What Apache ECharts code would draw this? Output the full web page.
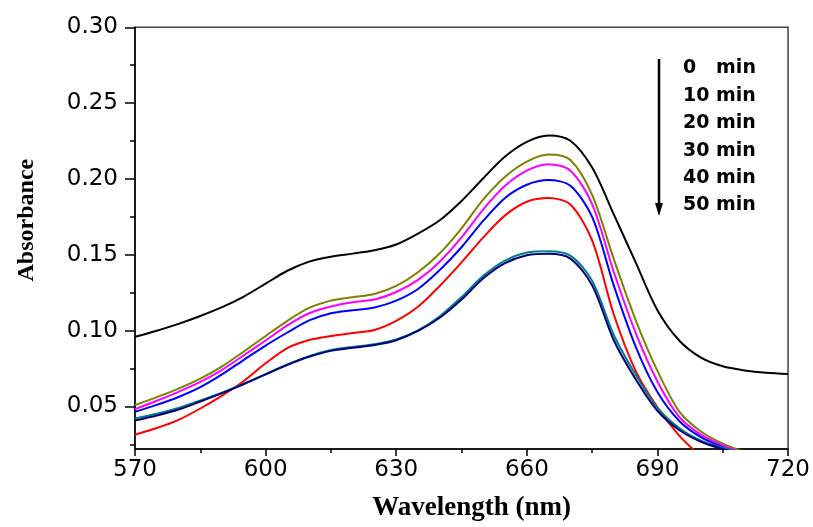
<!DOCTYPE html>
<html>
<head>
<meta charset="utf-8">
<script src="https://cdn.jsdelivr.net/npm/echarts@6/dist/echarts.min.js"></script>
<style>
html,body{margin:0;padding:0;background:#fff;}
#chart{width:813px;height:527px;}
</style>
</head>
<body>
<div id="chart"></div>
<script>
// Wavelength grid (nm)
var wavelengths = [570, 575, 580, 585, 590, 595, 600, 605, 610, 615, 620, 625, 630, 635, 640, 645, 650, 655, 660, 665, 670, 675, 680, 685, 690, 695, 700, 705, 710, 715, 720];

// Absorbance series
var abs0       = [0.096, 0.100, 0.1045, 0.1097, 0.1155, 0.1225, 0.131, 0.1395, 0.1455, 0.1488, 0.1508, 0.153, 0.1568, 0.164, 0.1728, 0.1855, 0.2005, 0.2148, 0.2245, 0.2287, 0.2252, 0.2075, 0.1765, 0.145, 0.1135, 0.0935, 0.0822, 0.0765, 0.0738, 0.0722, 0.0714];
var absOlive   = [0.051, 0.0562, 0.0618, 0.0684, 0.0765, 0.0863, 0.0965, 0.1065, 0.115, 0.1198, 0.1221, 0.1242, 0.1295, 0.1385, 0.151, 0.1675, 0.1865, 0.2015, 0.2115, 0.2161, 0.2125, 0.1895, 0.147, 0.107, 0.0735, 0.0468, 0.0335, 0.0255, 0.020, null, null];
var absMagenta = [0.0483, 0.0538, 0.0597, 0.0662, 0.0742, 0.0838, 0.0935, 0.1035, 0.1115, 0.116, 0.1188, 0.1205, 0.1255, 0.1335, 0.1455, 0.1615, 0.180, 0.1955, 0.2055, 0.2097, 0.2055, 0.1835, 0.1385, 0.0985, 0.0665, 0.0432, 0.0315, 0.0245, 0.019, null, null];
var absBlue    = [0.0466, 0.0511, 0.0563, 0.0628, 0.0712, 0.0808, 0.0902, 0.0988, 0.1068, 0.1115, 0.1135, 0.1153, 0.1198, 0.1275, 0.140, 0.155, 0.1725, 0.1875, 0.1962, 0.1993, 0.1955, 0.175, 0.1295, 0.0895, 0.0595, 0.0405, 0.0298, 0.0232, 0.018, null, null];
var absRed     = [0.0314, 0.0358, 0.0412, 0.0487, 0.0572, 0.0668, 0.0785, 0.0885, 0.0938, 0.0965, 0.0984, 0.1005, 0.1065, 0.1158, 0.1295, 0.145, 0.1615, 0.176, 0.185, 0.1874, 0.1832, 0.1595, 0.1105, 0.0735, 0.0495, 0.0308, 0.017, null, null, null, null];
var absTeal    = [0.0422, 0.0452, 0.049, 0.054, 0.0592, 0.065, 0.0714, 0.0777, 0.0832, 0.0872, 0.0893, 0.0911, 0.0942, 0.1002, 0.1095, 0.1222, 0.1362, 0.1462, 0.1515, 0.1524, 0.1495, 0.133, 0.097, 0.071, 0.0492, 0.0358, 0.0275, 0.0228, 0.019, null, null];
var absNavy    = [0.0408, 0.0441, 0.048, 0.0533, 0.0588, 0.0648, 0.0712, 0.0775, 0.0828, 0.0867, 0.0887, 0.0905, 0.0937, 0.0998, 0.1085, 0.1205, 0.1345, 0.1445, 0.1497, 0.1507, 0.1475, 0.130, 0.0935, 0.068, 0.0472, 0.0345, 0.0268, 0.022, 0.018, null, null];

var xTicks = [570, 600, 630, 660, 690, 720];
var yLabels = [0.05, 0.10, 0.15, 0.20, 0.25, 0.30];
var yMinor = [0.025, 0.075, 0.125, 0.175, 0.225, 0.275];
var legendLabels = ['0   min', '10 min', '20 min', '30 min', '40 min', '50 min'];

var seriesDefs = [
  {name: 'black', data: abs0, color: '#000000'},
  {name: 'olive', data: absOlive, color: '#808000'},
  {name: 'magenta', data: absMagenta, color: '#ff00ff'},
  {name: 'blue', data: absBlue, color: '#0000ff'},
  {name: 'red', data: absRed, color: '#ff0000'},
  {name: 'teal', data: absTeal, color: '#008080'},
  {name: 'navy', data: absNavy, color: '#000080'}
];

function pairs(arr) {
  var out = [];
  for (var i = 0; i < wavelengths.length; i++) {
    if (arr[i] !== null) out.push([wavelengths[i], arr[i]]);
  }
  return out;
}

var chart = echarts.init(document.getElementById('chart'), null, {renderer: 'canvas'});

var legendGraphics = [
  {type: 'line', shape: {x1: 659, y1: 59, x2: 659, y2: 206}, style: {stroke: '#000', lineWidth: 2.5}},
  {type: 'polygon', shape: {points: [[655, 203], [663, 203], [659, 216]]}, style: {fill: '#000'}}
];
legendLabels.forEach(function (t, i) {
  legendGraphics.push({
    type: 'text', left: 683, top: 59 + i * 27.4,
    style: {text: t, fontFamily: 'DejaVu Sans', fontWeight: 'bold', fontSize: 19, fill: '#000'}
  });
});

var yMin = 0.022, yMax = 0.30;

var option = {
  backgroundColor: '#ffffff',
  animation: false,
  grid: {left: 135, right: 24, top: 27.3, bottom: 71, show: true, borderColor: '#444', borderWidth: 1.5, backgroundColor: 'transparent'},
  xAxis: {
    type: 'value', min: 570, max: 720, interval: 30,
    name: 'Wavelength (nm)', nameLocation: 'middle', nameGap: 46,
    nameTextStyle: {fontFamily: 'Liberation Serif', fontWeight: 'bold', fontSize: 27, color: '#000', padding: [0, 0, 0, 20]},
    axisLine: {show: true, onZero: false, lineStyle: {color: '#000', width: 1.5}},
    axisTick: {show: true, inside: false, length: 7, lineStyle: {color: '#000', width: 1.5}},
    minorTick: {show: true, splitNumber: 2, length: 4, lineStyle: {color: '#000', width: 1.5}},
    axisLabel: {fontFamily: 'DejaVu Sans', fontSize: 23, color: '#000', margin: 10,
      customValues: xTicks},
    splitLine: {show: false}
  },
  yAxis: [{
    type: 'value', min: yMin, max: yMax,
    name: 'Absorbance', nameLocation: 'middle', nameGap: 96,
    nameTextStyle: {fontFamily: 'Liberation Serif', fontWeight: 'bold', fontSize: 24, color: '#000', padding: [0, 0, 0, 36]},
    axisLine: {show: true, onZero: false, lineStyle: {color: '#000', width: 1.5}},
    axisTick: {show: true, inside: false, length: 10, customValues: yLabels, lineStyle: {color: '#000', width: 1.5}},
    axisLabel: {fontFamily: 'DejaVu Sans', fontSize: 23, color: '#000', margin: 17,
      customValues: yLabels, formatter: function (v) { return v.toFixed(2); }},
    splitLine: {show: false}
  }, {
    type: 'value', min: yMin, max: yMax, position: 'left', offset: 0,
    axisLine: {show: false},
    axisTick: {show: true, inside: false, length: 5, customValues: yMinor, lineStyle: {color: '#000', width: 1.5}},
    axisLabel: {show: false},
    splitLine: {show: false}
  }],
  series: seriesDefs.map(function (s) {
    return {
      name: s.name, type: 'line', data: pairs(s.data), smooth: 0.3,
      showSymbol: false, symbol: 'none', clip: true, yAxisIndex: 0,
      lineStyle: {color: s.color, width: 2}, itemStyle: {color: s.color}
    };
  }),
  graphic: legendGraphics
};
chart.setOption(option);
</script>
</body>
</html>
